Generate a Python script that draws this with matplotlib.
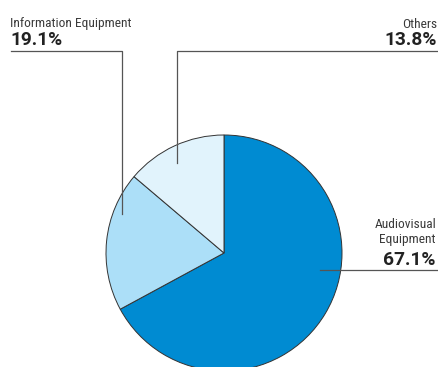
import matplotlib.pyplot as plt

# shares of sales by product category
categories = ["Audiovisual\nEquipment", "Information Equipment", "Others"]
shares = [67.1, 19.1, 13.8]
colors = ["#008bd2", "#acdff8", "#e1f3fc"]

plt.rcParams['font.family'] = ['Roboto Condensed', 'DejaVu Sans']

W, H = 439, 367
fig = plt.figure(figsize=(W / 100, H / 100), dpi=100)
ax = fig.add_axes([0, 0, 1, 1])


def py(y):
    # pixel row from the top -> data y
    return H - y


ax.pie(shares, colors=colors, startangle=90, counterclock=False,
       center=(224, py(253)), radius=118, frame=True,
       wedgeprops=dict(edgecolor="#333333", linewidth=0.7))
ax.set_xlim(0, W)
ax.set_ylim(0, H)
ax.axis('off')

line_kw = dict(color="#555555", linewidth=0.9)
name_kw = dict(fontsize=9.6, color="#3a3a3a", va='baseline')
pct_kw = dict(fontsize=13.8, fontweight='bold', color="#222222", va='baseline',
              family=['Roboto', 'DejaVu Sans'])

# Information Equipment
ax.plot([11, 122, 122], [py(51), py(51), py(214)], **line_kw)
ax.text(10, py(27.5), categories[1], ha='left', **name_kw)
ax.text(10, py(45), f"{shares[1]}%", ha='left', **pct_kw)

# Others
ax.plot([177, 177, 438], [py(163), py(51), py(51)], **line_kw)
ax.text(437, py(27.5), categories[2], ha='right', **name_kw)
ax.text(437, py(45), f"{shares[2]}%", ha='right', **pct_kw)

# Audiovisual Equipment
ax.plot([320, 438], [py(270), py(270)], **line_kw)
ax.text(436, py(228.5), "Audiovisual", ha='right', **name_kw)
ax.text(436, py(242.5), "Equipment", ha='right', **name_kw)
ax.text(436, py(265), f"{shares[0]}%", ha='right', **pct_kw)

fig.savefig("out.png", dpi=100)
